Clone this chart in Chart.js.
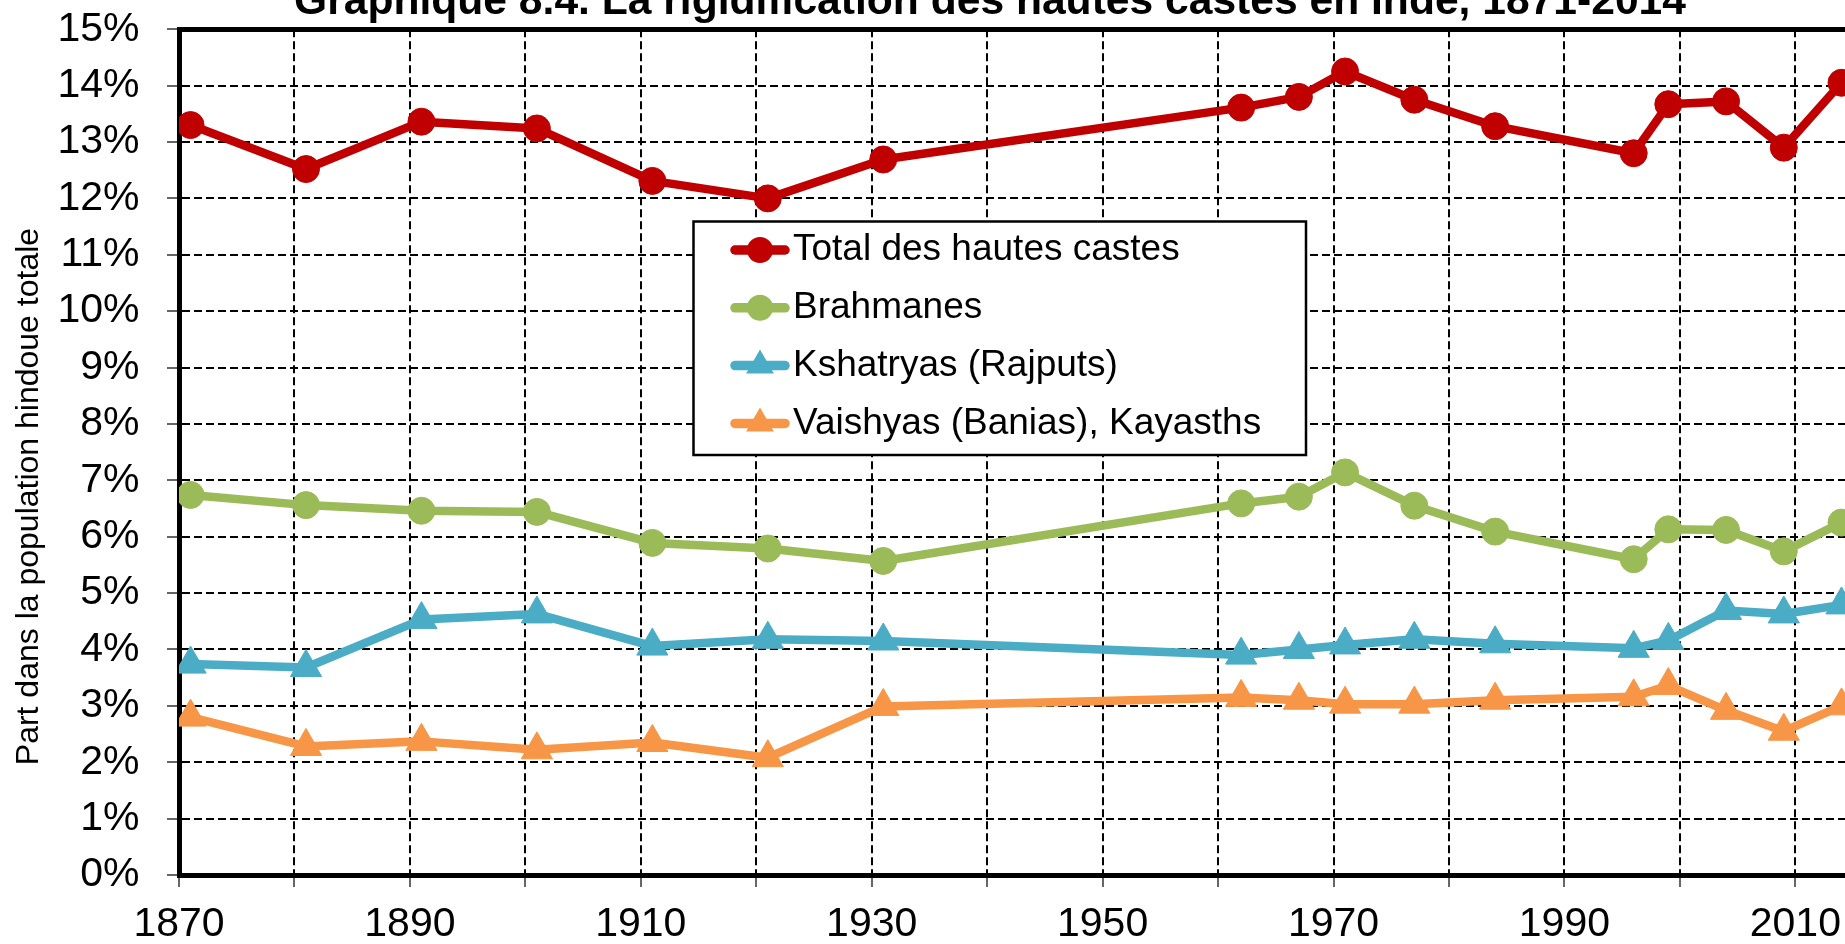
<!DOCTYPE html>
<html>
<head>
<meta charset="utf-8">
<script src="https://cdn.jsdelivr.net/npm/chart.js@4/dist/chart.umd.min.js"></script>
<style>
  html, body { margin: 0; padding: 0; background: #fff; overflow: hidden; }
  #wrap { position: relative; width: 1845px; height: 944px; overflow: hidden; background: #fff; }
  #c { position: absolute; left: 0; top: -27px; }
</style>
</head>
<body>
<div id="wrap"><canvas id="c" width="1980" height="976"></canvas></div>
<script>
// ---- Data ----
const chartTitle = "Graphique 8.4. La rigidification des hautes castes en Inde, 1871-2014";
const yAxisTitle = "Part dans la population hindoue totale";
const seriesNames = ["Total des hautes castes", "Brahmanes", "Kshatryas (Rajputs)", "Vaishyas (Banias), Kayasths"];
const years = [1871, 1881, 1891, 1901, 1911, 1921, 1931, 1962, 1967, 1971, 1977, 1984, 1996, 1999, 2004, 2009, 2014];
const totalHautesCastes = [13.30, 12.52, 13.36, 13.24, 12.31, 12.00, 12.69, 13.61, 13.80, 14.25, 13.75, 13.28, 12.80, 13.67, 13.72, 12.90, 14.05];
const brahmanes = [6.74, 6.56, 6.46, 6.44, 5.89, 5.79, 5.57, 6.59, 6.71, 7.14, 6.55, 6.09, 5.60, 6.13, 6.12, 5.74, 6.25];
const kshatryas = [3.74, 3.68, 4.53, 4.63, 4.06, 4.18, 4.15, 3.90, 4.00, 4.08, 4.18, 4.10, 4.02, 4.16, 4.69, 4.63, 4.79];
const vaishyas = [2.80, 2.28, 2.37, 2.22, 2.35, 2.08, 2.99, 3.15, 3.10, 3.03, 3.03, 3.10, 3.16, 3.36, 2.92, 2.55, 3.00];
const xTickLabelYears = [1870, 1890, 1910, 1930, 1950, 1970, 1990, 2010];

// ---- Styles ----
const FONT = "'Liberation Sans', Arial, sans-serif";
Chart.defaults.font.family = FONT;
Chart.defaults.color = '#000';
const colors = ['#C00000', '#9BBB59', '#4BACC6', '#F79646'];
const styles = ['circle', 'circle', 'triangle', 'triangle'];
const radii = [13.5, 13.5, 18, 18];
const seriesValues = [totalHautesCastes, brahmanes, kshatryas, vaishyas];
const datasets = seriesValues.map((vals, i) => ({
  label: seriesNames[i],
  data: years.map((yr, k) => ({ x: yr, y: vals[k] })),
  borderColor: colors[i], backgroundColor: colors[i],
  pointBackgroundColor: colors[i], pointBorderColor: colors[i], pointBorderWidth: 1,
  pointStyle: styles[i], pointRadius: radii[i], pointHoverRadius: radii[i],
  borderWidth: 8.5, borderJoinStyle: 'round', borderCapStyle: 'round', tension: 0, fill: false
}));

// Legend box drawn inside the plot area, as in the reference
const boxLegend = {
  id: 'boxLegend',
  afterDraw(chart) {
    const ctx = chart.ctx;
    const x1 = 693.5, y1 = 248.5, x2 = 1306, y2 = 482;
    ctx.save();
    ctx.fillStyle = '#fff';
    ctx.fillRect(x1, y1, x2 - x1, y2 - y1);
    ctx.lineWidth = 2.5;
    ctx.strokeStyle = '#000';
    ctx.strokeRect(x1, y1, x2 - x1, y2 - y1);
    chart.data.datasets.forEach((ds, i) => {
      const cy = 277 + i * 57.8;
      ctx.beginPath();
      ctx.lineCap = 'round';
      ctx.lineWidth = 9.5;
      ctx.strokeStyle = ds.borderColor;
      ctx.moveTo(735, cy);
      ctx.lineTo(785, cy);
      ctx.stroke();
      ctx.fillStyle = ds.borderColor;
      ctx.beginPath();
      if (ds.pointStyle === 'triangle') {
        const r = 16;
        ctx.moveTo(760, cy - r);
        ctx.lineTo(760 + r * Math.sin(2 * Math.PI / 3), cy + r / 2);
        ctx.lineTo(760 - r * Math.sin(2 * Math.PI / 3), cy + r / 2);
        ctx.closePath();
      } else {
        ctx.arc(760, cy, 13, 0, Math.PI * 2);
      }
      ctx.fill();
      ctx.fillStyle = '#000';
      ctx.font = '37px ' + FONT;
      ctx.textBaseline = 'middle';
      ctx.textAlign = 'left';
      ctx.fillText(ds.label, 793, cy);
    });
    ctx.restore();
  }
};

const gridCommon = { color: '#000', lineWidth: 2, drawTicks: true, tickLength: 12, tickColor: '#333', tickWidth: 1.5, tickBorderDash: [] };

new Chart(document.getElementById('c'), {
  type: 'line', data: { datasets },
  options: {
    responsive: false, animation: false, devicePixelRatio: 1, layout: { padding: 0 },
    plugins: { legend: { display: false }, tooltip: { enabled: false },
      title: { display: true, text: chartTitle, color: '#000', font: { size: 42.6, weight: 'bold', lineHeight: 1.2 }, padding: { top: 4, bottom: 1.1 } } },
    scales: {
      x: { type: 'linear', position: 'bottom', min: 1870, max: 2024.35, bounds: 'data', afterFit: (s) => { s.height = 74; },
        ticks: { stepSize: 10, autoSkip: false, maxRotation: 0, minRotation: 0, includeBounds: false, padding: 13.4, color: '#000', font: { size: 41 },
          callback: (v) => (xTickLabelYears.includes(v) ? String(v) : '') },
        grid: gridCommon,
        border: { display: true, color: '#000', width: 5, dash: [8, 4] } },
      xTop: { type: 'linear', position: 'top', min: 1870, max: 2024.35, bounds: 'data', ticks: { display: false }, grid: { display: false, drawTicks: false }, border: { display: true, color: '#000', width: 5 } },
      y: { type: 'linear', min: 0, max: 15, afterFit: (s) => { s.width = 179; },
        ticks: { stepSize: 1, padding: 27.5, color: '#000', font: { size: 41 }, callback: (v) => v + '%' },
        grid: gridCommon,
        border: { display: true, color: '#000', width: 5, dash: [8, 4] },
        title: { display: true, text: yAxisTitle + '\u00A0'.repeat(10), color: '#000', font: { size: 32, lineHeight: 1.2 }, padding: { top: 10.3, bottom: 0 } } }
    }
  },
  plugins: [boxLegend]
});
</script>
</body>
</html>
